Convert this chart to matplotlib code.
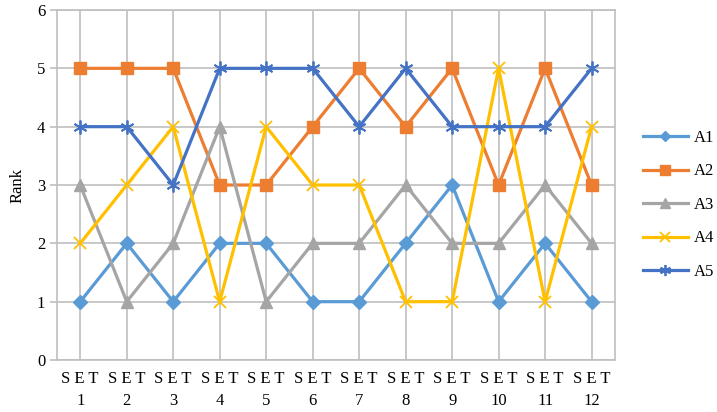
import matplotlib
matplotlib.use("Agg")
import matplotlib.pyplot as plt

sets = ["S E T\n1", "S E T\n2", "S E T\n3", "S E T\n4", "S E T\n5", "S E T\n6",
        "S E T\n7", "S E T\n8", "S E T\n9", "S E T\n10", "S E T\n11", "S E T\n12"]
a1 = [1, 2, 1, 2, 2, 1, 1, 2, 3, 1, 2, 1]
a2 = [5, 5, 5, 3, 3, 4, 5, 4, 5, 3, 5, 3]
a3 = [3, 1, 2, 4, 1, 2, 2, 3, 2, 2, 3, 2]
a4 = [2, 3, 4, 1, 4, 3, 3, 1, 1, 5, 1, 4]
a5 = [4, 4, 3, 5, 5, 5, 4, 5, 4, 4, 4, 5]
series_names = ["A1", "A2", "A3", "A4", "A5"]

plt.rcParams['font.family'] = ['Liberation Serif', 'DejaVu Serif']

fig = plt.figure(figsize=(7.17, 4.12), dpi=100)
ax = fig.add_axes([0.0795, 0.1262, 0.778, 0.8495])

styles = [
    dict(color="#5B9BD5", marker="D", markersize=7),
    dict(color="#ED7D31", marker="s", markersize=9),
    dict(color="#A5A5A5", marker="^", markersize=9),
    dict(color="#FFC000", marker="x", markersize=9, markeredgewidth=1.3),
    dict(color="#4472C4", marker=(6, 2, 0), markersize=10, markeredgewidth=1.3),
]
x = list(range(len(sets)))
for name, vals, st in zip(series_names, [a1, a2, a3, a4, a5], styles):
    ax.plot(x, vals, label=name, linewidth=2.3, **st)

ax.set_xlim(-0.5, len(sets) - 0.5)
ax.set_ylim(0, 6)
ax.set_yticks(range(0, 7))
ax.set_xticks(x)
ax.set_xticklabels(sets, fontsize=12, linespacing=1.45)
ax.tick_params(axis='y', labelsize=12, length=5, color="#BFBFBF", width=1.2)
ax.tick_params(axis='x', length=0, pad=8)
ax.grid(True, color="#BFBFBF", linewidth=1.2)
ax.set_axisbelow(True)
for s in ax.spines.values():
    s.set_color("#BFBFBF")
    s.set_linewidth(1.2)
ax.set_ylabel("Rank", fontsize=12, labelpad=8)

leg = ax.legend(loc="center left", bbox_to_anchor=(1.05, 0.443), frameon=False,
                fontsize=12, handlelength=2.7, handletextpad=0.35,
                borderaxespad=0.0, borderpad=0.0,
                labelspacing=1.05, markerscale=0.8)

fig.savefig("out.png", dpi=100)
